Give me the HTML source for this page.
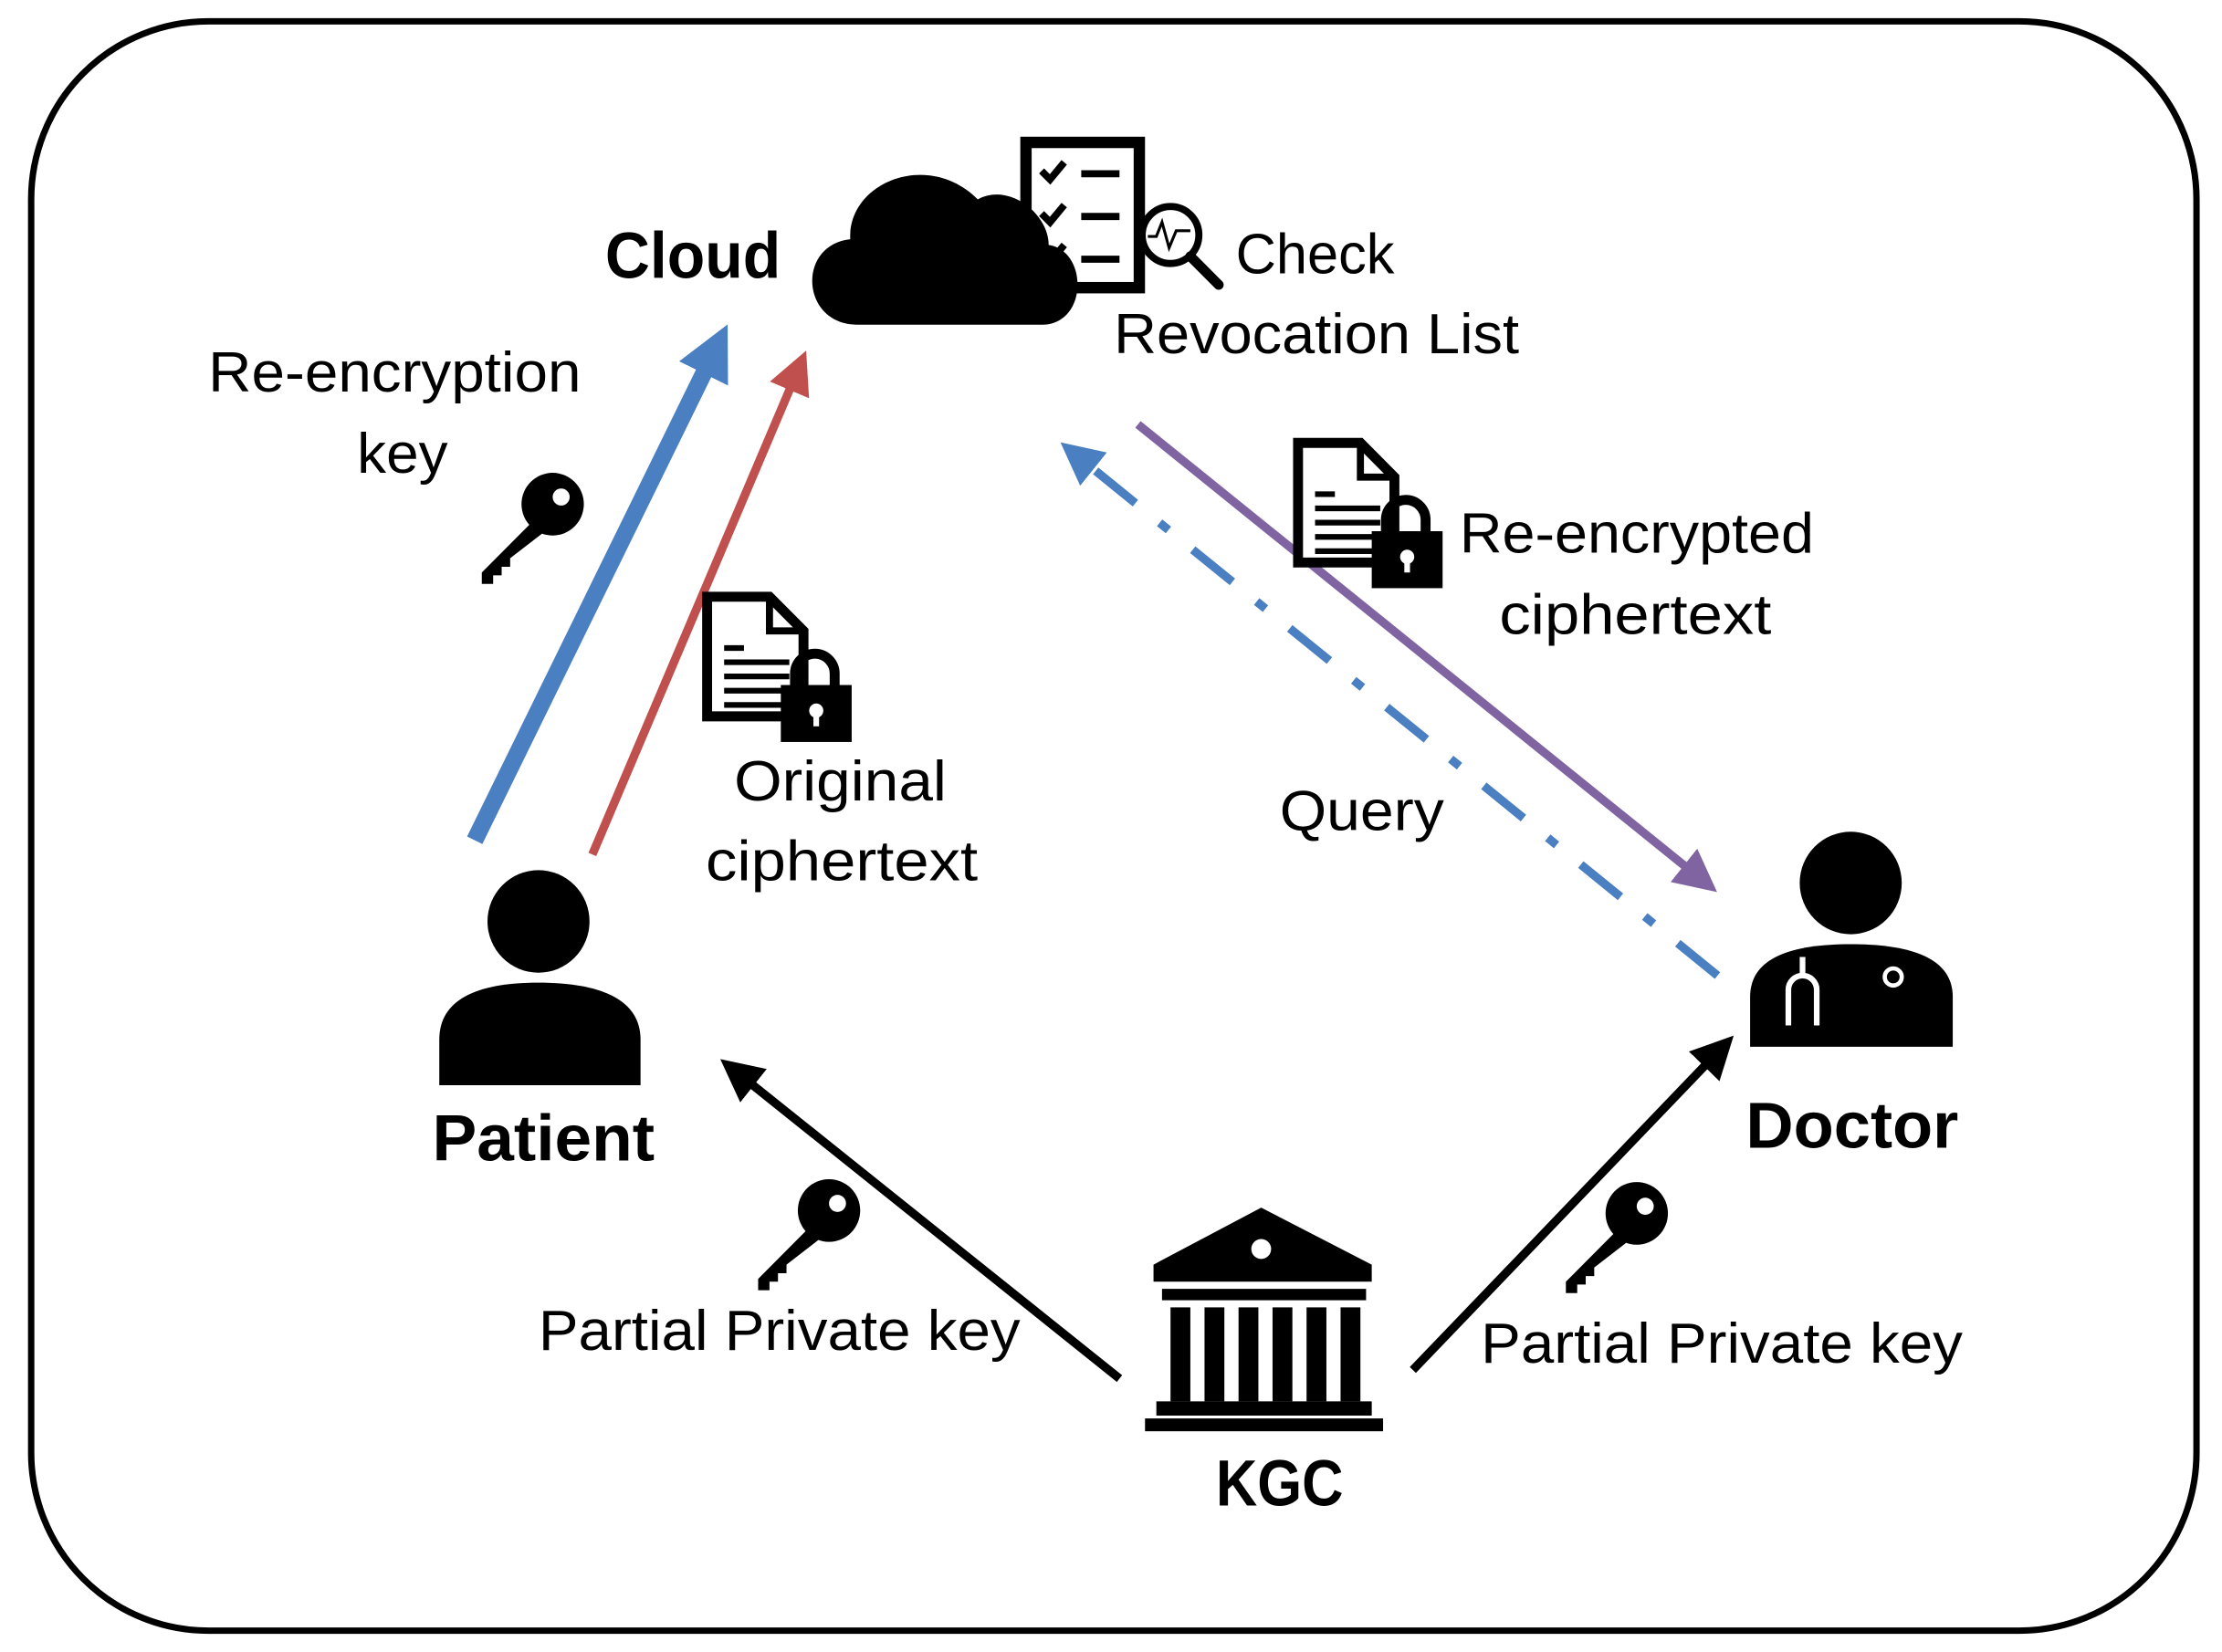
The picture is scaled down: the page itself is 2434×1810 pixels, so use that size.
<!DOCTYPE html>
<html><head><meta charset="utf-8"><style>
html,body{margin:0;padding:0;background:#fff}
svg{display:block}
text{font-family:"Liberation Sans","DejaVu Sans",sans-serif;fill:#000}
</style></head><body>
<svg width="2434" height="1810" viewBox="0 0 1568 1160" preserveAspectRatio="none" xmlns="http://www.w3.org/2000/svg">
<defs>
<marker id="ab" viewBox="0 0 10 10" refX="5" refY="5" markerWidth="3.2" markerHeight="3.2" orient="auto"><path d="M0,0 L10,5 L0,10 z" fill="#4a7fc1"/></marker>
<marker id="ar" viewBox="0 0 10 10" refX="5" refY="5" markerWidth="5" markerHeight="5" orient="auto"><path d="M0,0 L10,5 L0,10 z" fill="#c0504d"/></marker>
<marker id="ap" viewBox="0 0 10 10" refX="5" refY="5" markerWidth="5" markerHeight="5" orient="auto"><path d="M0,0 L10,5 L0,10 z" fill="#8064a2"/></marker>
<marker id="ad" viewBox="0 0 10 10" refX="5" refY="5" markerWidth="5" markerHeight="5" orient="auto"><path d="M0,0 L10,5 L0,10 z" fill="#4a7fc1"/></marker>
<marker id="ak" viewBox="0 0 10 10" refX="5" refY="5" markerWidth="5" markerHeight="5" orient="auto"><path d="M0,0 L10,5 L0,10 z" fill="#000"/></marker>
<g id="key"><circle cx="60" cy="22" r="22" fill="#000"/><circle cx="66" cy="17" r="6" fill="#fff"/><path d="M48,32 L10,70 L10,78 L18,78 L18,72 L24,72 L24,66 L30,66 L30,60 L56,40 z" fill="#000"/></g>
<g id="doclock"><path d="M4,4 H48 L72,28 V88 H4 z" fill="#fff" stroke="#000" stroke-width="7"/><path d="M48,4 V28 H72" fill="none" stroke="#000" stroke-width="5"/><g stroke="#000" stroke-width="4"><line x1="16" y1="40" x2="30" y2="40"/><line x1="16" y1="50" x2="62" y2="50"/><line x1="16" y1="60" x2="62" y2="60"/><line x1="16" y1="70" x2="62" y2="70"/><line x1="16" y1="80" x2="62" y2="80"/></g><path d="M66,68 V58 a14,14 0 0 1 28,0 V68" fill="none" stroke="#000" stroke-width="7"/><rect x="56" y="66" width="50" height="40" fill="#000"/><circle cx="81" cy="84" r="5" fill="#fff"/><rect x="79" y="85" width="4" height="10" fill="#fff"/></g>
</defs>
<rect x="22" y="15" width="1528" height="1130" rx="125" ry="125" fill="none" stroke="#000" stroke-width="4.5"/>
<!-- cloud -->
<text x="427" y="195" font-size="46" font-weight="bold" textLength="124" lengthAdjust="spacingAndGlyphs">Cloud</text>
<rect x="724" y="100" width="80" height="102" fill="#fff" stroke="#000" stroke-width="8"/>
<g stroke="#000" stroke-width="5" fill="none"><path d="M735,120 l6,6 l10,-12"/><path d="M735,150 l6,6 l10,-12"/><path d="M735,178 l6,6 l10,-12"/><line x1="763" y1="122" x2="790" y2="122"/><line x1="763" y1="152" x2="790" y2="152"/><line x1="763" y1="182" x2="790" y2="182"/></g>
<path d="M605,228 C565,228 562,172 600,168 C598,128 655,105 690,140 C712,128 740,150 740,172 C768,176 768,228 735,228 z" fill="#000"/>
<circle cx="826" cy="165" r="20" fill="#fff" stroke="#000" stroke-width="5"/>
<path d="M810,166 l6,0 l4,-10 l5,18 l5,-12 l10,0" fill="none" stroke="#000" stroke-width="2"/>
<line x1="840" y1="180" x2="860" y2="200" stroke="#000" stroke-width="7" stroke-linecap="round"/>
<text x="872" y="192" font-size="40" textLength="112" lengthAdjust="spacingAndGlyphs">Check</text>
<text x="786" y="248" font-size="40" textLength="286" lengthAdjust="spacingAndGlyphs">Revocation List</text>
<!-- left -->
<text x="147" y="275" font-size="40" textLength="263" lengthAdjust="spacingAndGlyphs">Re-encryption</text>
<text x="252" y="332" font-size="40" textLength="64" lengthAdjust="spacingAndGlyphs">key</text>
<use href="#key" x="330" y="332"/>
<line x1="335" y1="590" x2="505" y2="245" stroke="#4a7fc1" stroke-width="12" marker-end="url(#ab)"/>
<line x1="418" y1="600" x2="563" y2="260" stroke="#c0504d" stroke-width="6" marker-end="url(#ar)"/>
<use href="#doclock" x="495" y="415"/>
<text x="518" y="562" font-size="40" textLength="150" lengthAdjust="spacingAndGlyphs">Original</text>
<text x="498" y="618" font-size="40" textLength="192" lengthAdjust="spacingAndGlyphs">ciphertext</text>
<!-- right -->
<line x1="803" y1="298" x2="1200" y2="617" stroke="#8064a2" stroke-width="6" marker-end="url(#ap)"/>
<line x1="1212" y1="685" x2="760" y2="320" stroke="#4a7fc1" stroke-width="6" stroke-dasharray="36,22,8,22" marker-end="url(#ad)"/>
<use href="#doclock" x="912" y="307"/>
<text x="1030" y="388" font-size="40" textLength="250" lengthAdjust="spacingAndGlyphs">Re-encrypted</text>
<text x="1058" y="445" font-size="40" textLength="192" lengthAdjust="spacingAndGlyphs">ciphertext</text>
<text x="903" y="583" font-size="40" textLength="116" lengthAdjust="spacingAndGlyphs">Query</text>
<!-- patient -->
<circle cx="380" cy="647" r="36" fill="#000"/>
<path d="M310,762 V730 C310,700 340,690 380,690 C420,690 452,700 452,730 V762 z" fill="#000"/>
<text x="305" y="815" font-size="46" font-weight="bold" textLength="157" lengthAdjust="spacingAndGlyphs">Patient</text>
<!-- doctor -->
<circle cx="1306" cy="620" r="36" fill="#000"/>
<path d="M1235,735 V700 C1235,672 1265,663 1306,663 C1347,663 1378,672 1378,700 V735 z" fill="#000"/>
<path d="M1272,672 V685 a10,10 0 0 0 -10,10 V720 M1272,685 a10,10 0 0 1 10,10 V720" fill="none" stroke="#fff" stroke-width="4"/>
<circle cx="1336" cy="686" r="6" fill="none" stroke="#fff" stroke-width="3"/>
<text x="1232" y="806" font-size="46" font-weight="bold" textLength="150" lengthAdjust="spacingAndGlyphs">Doctor</text>
<!-- KGC -->
<line x1="790" y1="968" x2="520" y2="753" stroke="#000" stroke-width="6" marker-end="url(#ak)"/>
<line x1="997" y1="962" x2="1213" y2="738" stroke="#000" stroke-width="6" marker-end="url(#ak)"/>
<use href="#key" x="525" y="828"/>
<use href="#key" x="1095" y="830"/>
<text x="380" y="948" font-size="40" textLength="340" lengthAdjust="spacingAndGlyphs">Partial Private key</text>
<text x="1045" y="957" font-size="40" textLength="340" lengthAdjust="spacingAndGlyphs">Partial Private key</text>
<path d="M890,848 L968,888 V900 H814 V888 z" fill="#000"/>
<circle cx="890" cy="877" r="7" fill="#fff"/>
<rect x="820" y="905" width="144" height="8" fill="#000"/>
<g fill="#000"><rect x="826" y="918" width="14" height="66"/><rect x="850" y="918" width="14" height="66"/><rect x="874" y="918" width="14" height="66"/><rect x="898" y="918" width="14" height="66"/><rect x="922" y="918" width="14" height="66"/><rect x="946" y="918" width="14" height="66"/></g>
<rect x="816" y="984" width="152" height="10" fill="#000"/>
<rect x="808" y="996" width="168" height="9" fill="#000"/>
<text x="858" y="1057" font-size="46" font-weight="bold" textLength="90" lengthAdjust="spacingAndGlyphs">KGC</text>
</svg>
</body></html>
